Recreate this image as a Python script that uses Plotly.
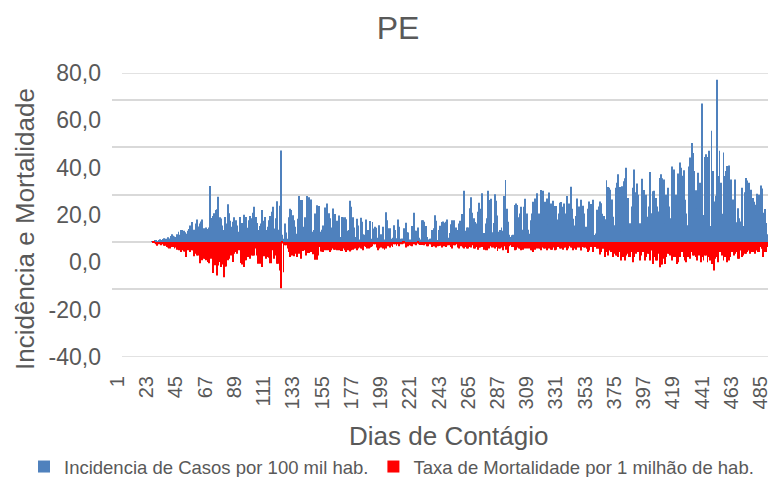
import plotly.graph_objects as go

# Incidência diária de casos (por 100 mil hab.), dia 1 a 490
incidencia = [
    0, 0, 0, 0, 0, 0, 0, 0, 0, 0, 0, 0, 0, 0, 0, 0, 0, 0, 0, 0, 0, 0, 0, 0, 0, 0, 0.2, 0.3,
    0.4, 0.5, 0.3, 0.6, 1.1, 0.8, 1.2, 1.6, 1.3, 1.4,
    2.0, 1.5, 2.5, 3.2, 2.6, 2.3, 2.1, 3.2, 4.3, 3.0,
    5.0, 5.0, 4.7, 4.1, 3.5, 4.7, 5.5, 7.0, 8.4, 4.7,
    5.2, 7.8, 9.5, 6.5, 7.8, 8.7, 9.5, 5.8, 5.5, 6.1,
    5.5, 6.1, 23.7, 10.1, 11.0, 12.1, 13.5, 13.8, 19.1, 10.4,
    9.9, 7.0, 5.0, 10.6, 7.8, 16.0, 12.1, 9.0, 6.4, 8.5,
    10.4, 9.2, 7.0, 4.3, 10.6, 5.2, 8.0, 11.5, 8.5, 10.6,
    6.0, 9.2, 11.0, 10.0, 12.3, 14.9, 10.6, 8.0, 5.0, 6.7,
    7.8, 13.5, 9.0, 10.6, 5.0, 6.4, 9.2, 11.0, 12.8, 14.9,
    5.7, 10.0, 17.2, 5.2, 15.3, 38.7, 3.0, 1.3, 7.8, 4.0,
    1.3, 10.4, 14.0, 13.5, 11.3, 9.2, 6.4, 3.5, 9.8,
    19.4, 17.7, 17.7, 6.4, 10.4, 8.0, 19.4, 18.9, 13.2, 18.0,
    4.3, 5.0, 12.0, 15.5, 10.1, 15.2, 4.3, 5.2, 7.0, 14.6,
    9.6, 16.3, 12.1, 10.0, 6.1, 14.2, 10.6, 11.8, 9.0, 6.1,
    11.2, 2.1, 10.6, 10.4, 10.4, 9.6, 4.7, 5.0, 17.4, 14.9,
    10.4, 6.1, 2.1, 9.8, 7.0, 1.0, 10.2, 8.5, 3.3, 3.0,
    9.5, 5.0, 5.0, 8.9, 1.3, 8.4, 5.7, 6.4, 6.0, 1.8,
    7.1, 3.3, 3.3, 6.4, 1.0, 12.6, 9.2, 5.8, 5.8, 1.4,
    1.8, 7.1, 5.0, 1.6, 9.5, 6.4, 1.3, 1.5, 1.0, 5.8,
    8.1, 4.1, 4.0, 1.0, 0.7, 6.7, 12.3, 4.7, 4.7, 6.1,
    1.8, 1.0, 9.2, 9.2, 8.5, 6.7, 2.1, 1.0, 1.4, 1.4,
    5.0, 5.8, 11.3, 9.0, 0.7, 5.0, 6.9, 8.4, 8.7, 8.1,
    8.5, 9.5, 1.8,
    3.8, 7.5, 9.2, 9.2, 4.7, 6.1, 5.0, 7.8, 9.0, 11.8,
    5.8, 21.7, 4.7, 6.1, 6.1, 14.3, 18.9, 12.3, 10.0, 8.4,
    7.8, 12.8, 16.6, 14.0, 20.6, 2.1, 3.8, 7.8, 10.0, 21.7,
    17.7, 18.3, 4.1, 8.0, 20.2, 17.4, 11.2, 4.3, 5.0, 6.1,
    4.7, 19.4, 26.2, 14.0, 8.5, 3.0, 2.1, 2.8, 3.0, 15.6,
    16.3, 15.6, 10.4, 12.0, 14.9, 5.2, 14.9, 18.3, 12.0, 5.2,
    3.5, 9.2, 12.0, 17.0, 18.4, 17.4, 20.6, 12.0, 5.7, 22.0,
    21.7, 15.6, 17.0, 18.4, 7.5, 20.9, 16.3, 15.0, 17.4, 15.2,
    15.2, 9.5, 12.0, 16.6, 16.9, 14.9, 16.3, 12.0, 19.4, 16.0,
    16.3, 23.4, 14.0, 9.8, 7.0, 11.0, 18.4, 15.0,
    12.1, 17.9, 15.3, 12.0, 6.4, 6.4, 14.0, 17.1, 16.1, 15.0,
    17.9, 2.9, 3.6, 13.6, 15.0, 17.1, 16.4, 11.9, 11.0, 9.6,
    26.1, 23.3, 22.9, 22.1, 18.0, 10.7, 7.1, 22.9, 25.0, 28.6,
    23.3, 4.3, 23.6, 25.7, 27.0, 31.4, 18.6, 6.4, 7.9, 15.0,
    22.9, 30.7, 21.0, 24.7, 20.0, 7.9, 7.1, 26.7, 22.0, 19.6,
    20.0, 10.7, 15.0, 29.6, 12.1, 21.4, 21.7, 18.6, 15.0, 12.9,
    27.1, 28.6, 27.0, 26.4, 7.9, 20.0, 22.9, 15.0, 10.0, 31.9,
    29.3, 30.7, 20.0, 9.3, 29.0, 33.6, 31.4, 28.0, 30.3, 17.9,
    12.0, 7.1, 31.9, 35.7, 41.9, 37.6, 30.0, 21.9, 14.3, 29.3,
    25.0, 22.1, 58.6, 11.4, 36.0, 37.1, 36.0, 38.6, 6.7, 47.1,
    30.0, 17.1, 19.6, 68.6, 27.9, 38.6, 25.0, 11.9, 37.9, 27.9,
    30.0, 32.1, 32.4, 12.1, 26.4, 18.0, 10.4, 26.4, 8.3, 14.3,
    10.0, 8.6, 22.9, 6.7, 21.0, 27.1, 26.0, 25.0, 6.7, 22.1,
    18.6, 17.0, 15.7, 20.4, 4.1, 20.0, 23.9, 22.6, 12.4, 13.9,
    8.0, 3.3,
]

# Taxa diária de mortalidade (por 1 milhão de hab.), dia 1 a 490
mortalidade = [
    0, 0, 0, 0, 0, 0, 0, 0, 0, 0, 0, 0, 0, 0, 0, 0, 0, 0, 0, 0, 0, 0, 0, 0, 0, 0, 0, 0.3, 0.6,
    1.0, 1.6, 1.0, 1.0, 1.4, 1.0, 1.6, 1.6, 2.1, 2.4,
    2.8, 2.8, 2.1, 2.1, 2.8, 2.4, 3.3, 3.5, 3.5, 4.3,
    3.5, 4.0, 4.0, 6.4, 3.5, 3.3, 4.3, 3.5, 3.5, 6.1,
    5.0, 5.7, 5.7, 9.0, 7.1, 7.8, 7.1, 7.1, 7.8, 8.5,
    9.0, 7.1, 7.1, 13.2, 9.9, 9.9, 14.2, 10.0, 8.5, 10.6,
    9.5, 14.9, 10.4, 10.4, 7.8, 7.1, 5.7, 5.7, 8.5, 5.0,
    4.3, 5.0, 3.5, 3.5, 8.9, 9.5, 10.6, 7.8, 7.8, 6.4,
    5.0, 7.1, 5.7, 5.7, 5.7, 2.8, 5.7, 9.2, 9.2, 6.4,
    10.6, 6.1, 6.1, 7.1, 6.4, 6.7, 9.0, 9.0, 3.5, 7.1,
    5.7, 9.2, 9.2, 12.1, 19.6, 0.7, 12.8, 1.4, 1.4, 2.8,
    4.3, 6.4, 5.7, 5.7, 6.1, 5.0, 6.4, 4.3,
    5.0, 7.1, 3.8, 3.8, 3.5, 5.7, 4.7, 4.7, 3.5, 4.3,
    5.2, 3.8, 7.5, 7.5, 5.7, 2.1, 4.0, 4.0, 4.3, 3.5,
    2.8, 3.5, 3.5, 4.3, 3.5, 2.8, 3.3, 3.3, 3.5, 2.8,
    3.5, 3.8, 3.8, 2.8, 3.5, 4.3, 3.5, 3.5, 4.0, 3.5,
    3.3, 2.8, 2.8, 3.5, 2.8, 2.4, 2.8, 2.8, 3.5, 1.8,
    2.1, 2.8, 2.8, 2.4, 2.1, 1.8, 1.0, 1.0, 2.4, 3.5,
    2.8, 2.4, 2.4, 2.8, 3.3, 2.8, 1.8, 1.8, 2.4, 1.6,
    2.1, 1.0, 1.0, 1.6, 1.0, 1.8, 1.0, 1.0, 0.7, 0.7,
    2.4, 1.8, 1.8, 1.4, 1.6, 1.8, 1.0, 1.0, 1.4, 0.7,
    1.0, 1.3, 1.3, 1.0, 1.4, 1.0, 1.8, 1.8, 1.0, 1.0,
    2.1, 1.8, 1.8, 2.4, 1.8, 1.6, 1.6, 2.4, 1.4, 1.8,
    2.1, 1.4, 1.4,
    1.4, 2.1, 2.8, 1.4, 1.4, 1.0, 2.4, 2.8, 1.8, 1.8,
    2.4, 2.8, 2.1, 2.8, 2.8, 2.1, 2.4, 1.4, 2.8, 2.8,
    2.1, 3.3, 2.4, 2.4, 2.1, 1.8, 3.3, 3.5, 3.5, 2.8,
    2.8, 1.8, 2.4, 2.4, 2.8, 2.1, 3.8, 2.8, 2.8, 2.4,
    3.5, 1.8, 3.3, 3.3, 4.7, 1.8, 1.4, 2.1, 2.1, 3.5,
    3.3, 2.4, 2.8, 2.8, 3.5, 3.3, 2.4, 2.8, 2.8, 1.8,
    2.8, 3.5, 3.5, 4.3, 3.3, 2.1, 2.8, 2.8, 2.8, 3.5,
    2.4, 2.8, 2.8, 3.5, 1.8, 2.8, 3.3, 3.3, 2.4, 3.5,
    3.3, 2.1, 2.1, 2.8, 2.8, 3.3, 2.4, 2.4, 3.5, 2.8,
    1.8, 2.4, 2.4, 3.5, 2.8, 3.3, 2.4, 2.4,
    2.1, 3.6, 2.1, 2.4, 2.4, 2.9, 4.3, 3.6, 2.1, 2.1,
    4.3, 2.1, 2.1, 2.9, 2.9, 5.3, 4.3, 2.9, 2.9, 6.4,
    4.3, 5.7, 3.6, 4.3, 4.3, 6.4, 5.0, 5.7, 5.7, 6.4,
    4.3, 7.9, 6.4, 6.4, 7.9, 5.7, 5.0, 6.4, 6.4, 4.3,
    8.6, 6.4, 5.0, 4.3, 4.3, 7.9, 5.7, 4.3, 4.3, 7.9,
    6.4, 5.0, 5.0, 7.9, 3.6, 9.3, 6.4, 7.9, 7.9, 5.0,
    10.7, 9.6, 9.6, 7.1, 9.3, 6.4, 5.0, 5.0, 5.7, 7.9,
    5.7, 6.4, 6.4, 9.3, 8.6, 6.4, 4.3, 4.3, 6.4, 7.9,
    8.6, 6.4, 6.4, 7.1, 4.3, 5.7, 5.7, 6.4, 7.9, 5.7,
    5.7, 8.6, 6.4, 7.9, 5.7, 5.7, 8.6, 6.4, 7.9, 9.3,
    9.3, 12.1, 7.1, 6.4, 8.6, 4.3, 4.3, 5.7, 7.9, 6.4,
    6.4, 8.6, 7.9, 6.4, 4.3, 4.3, 5.7, 5.0, 4.3, 7.1,
    7.1, 3.6, 6.4, 5.7, 5.0, 5.0, 4.3, 3.6, 5.0, 4.3,
    4.3, 3.6, 5.0, 3.6, 4.3, 4.3, 2.1, 2.9, 6.4, 4.3,
    4.3, 2.1,
]

dias = list(range(1, len(incidencia) + 1))
dias_mort = list(range(1, len(mortalidade) + 1))

# Rótulos do eixo de dias (a cada 22 dias)
rotulos_dias = list(range(1, 486, 22))

# Rótulos do eixo vertical
valores_eixo = [-40, -20, 0, 20, 40, 60, 80]
rotulos_eixo = ["-40,0", "-20,0", "0,0", "20,0", "40,0", "60,0", "80,0"]

TEXTO = "#595959"
GRADE = "#D9D9D9"
FONTE = "Liberation Sans, Arial, sans-serif"

# área do gráfico em pixels
ESQ, DIR, TOPO, BASE = 112, 768, 73, 357
LARG, ALT = DIR - ESQ, BASE - TOPO

fig = go.Figure()
fig.add_trace(go.Bar(
    x=dias, y=incidencia,
    name="Incidencia de Casos por 100 mil hab.",
    marker=dict(color="#4F81BD", line=dict(width=0)),
))
fig.add_trace(go.Bar(
    x=dias_mort, y=[-v for v in mortalidade],
    name="Taxa de Mortalidade por 1 milhão de hab.",
    marker=dict(color="#FF0000", line=dict(width=0)),
))
# eixo de rótulos (sobreposto)
fig.add_trace(go.Scatter(
    x=[dias[0]], y=[None], yaxis="y2", mode="lines",
    showlegend=False, hoverinfo="skip",
))

fig.update_layout(
    width=774, height=477,
    margin=dict(l=ESQ, r=774 - DIR, t=TOPO, b=477 - BASE, autoexpand=False),
    paper_bgcolor="white", plot_bgcolor="white",
    barmode="relative", bargap=0.3,
    font=dict(family=FONTE, color=TEXTO),
    title=dict(text="PE", x=398 / 774, xanchor="center",
               y=1 - 28 / 477, yanchor="middle",
               font=dict(size=32, color=TEXTO)),
    xaxis=dict(
        range=[-3, 490.5], tickmode="array",
        tickvals=rotulos_dias, ticktext=[str(d) for d in rotulos_dias],
        tickangle=-90, tickfont=dict(size=20, color=TEXTO),
        ticklabelstandoff=14, ticks="",
        showgrid=False, zeroline=False, showline=False,
    ),
    yaxis=dict(
        range=[-48.7, 71.5], tickmode="array", tickvals=[-20, 0, 20, 40, 60],
        showticklabels=False, ticks="",
        showgrid=True, gridcolor=GRADE, gridwidth=1.5, zeroline=False,
    ),
    yaxis2=dict(
        overlaying="y", side="left", range=[-40, 80],
        tickmode="array", tickvals=valores_eixo, ticktext=rotulos_eixo,
        tickfont=dict(size=23, color=TEXTO), ticks="", ticklabelstandoff=10,
        showgrid=False, zeroline=False, showline=False,
    ),
    legend=dict(
        orientation="h", xref="paper", yref="paper",
        x=(24 - ESQ) / LARG, xanchor="left",
        y=(BASE - 467) / ALT, yanchor="middle",
        font=dict(size=18.5, color=TEXTO), itemwidth=30,
        tracegroupgap=0, borderwidth=0, bgcolor="rgba(0,0,0,0)",
    ),
    showlegend=True,
)

# linhas de limite superior e inferior da área do gráfico
for v in (80, -40):
    fig.add_shape(type="line", xref="paper", yref="y2",
                  x0=(122 - ESQ) / LARG, x1=1, y0=v, y1=v,
                  line=dict(color=GRADE, width=1.5), layer="below")

# títulos dos eixos
fig.add_annotation(text="Dias de Contágio", xref="paper", yref="paper",
                   x=(448 - ESQ) / LARG, y=(BASE - 436) / ALT,
                   xanchor="center", yanchor="middle", showarrow=False,
                   font=dict(size=26, color=TEXTO))
fig.add_annotation(text="Incidência e Mortalidade", xref="paper", yref="paper",
                   x=(25 - ESQ) / LARG, y=(BASE - 229) / ALT, textangle=-90,
                   xanchor="center", yanchor="middle", showarrow=False,
                   font=dict(size=26, color=TEXTO))

fig.write_html("out.html")
